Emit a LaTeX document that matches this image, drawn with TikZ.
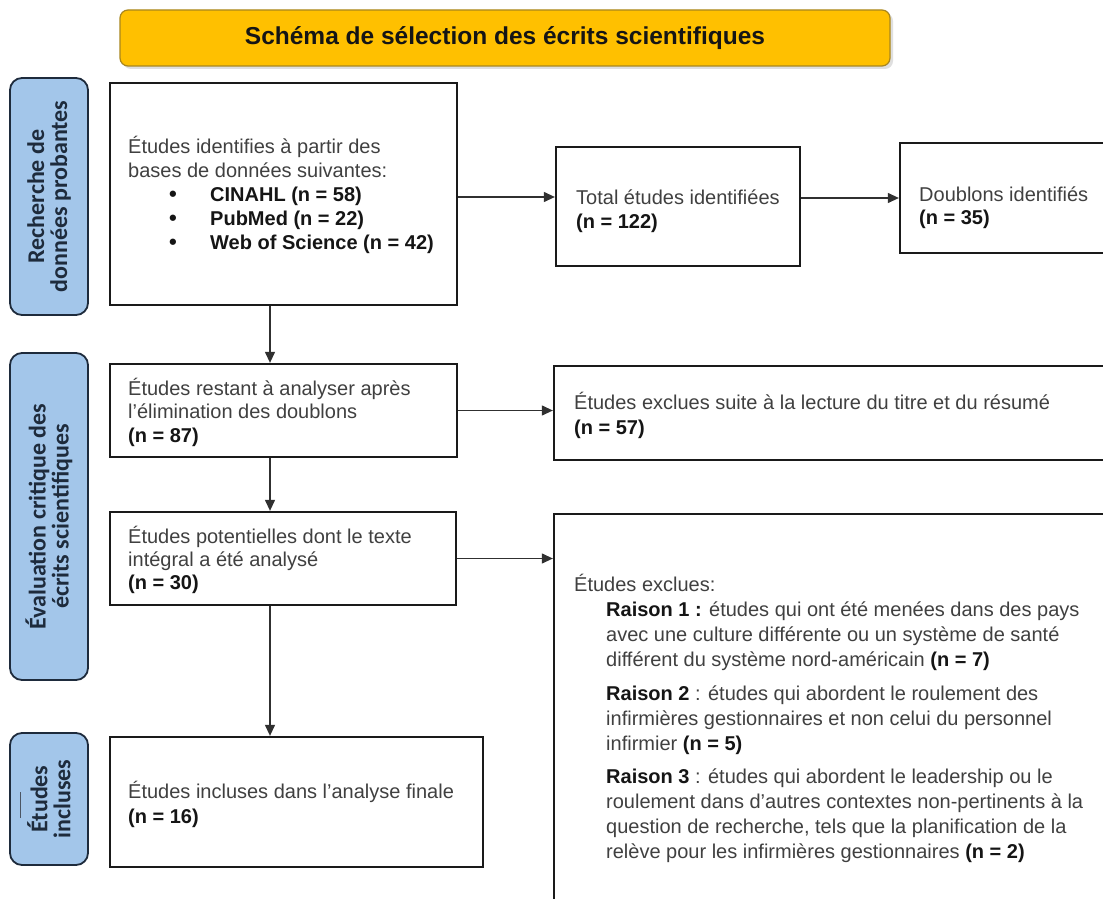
\documentclass[tikz,border=0pt]{standalone}
\usepackage{fontspec}
\setmainfont{Liberation Sans}
\newfontfamily\lblfont{Carlito}
\usetikzlibrary{arrows.meta}
\definecolor{titlefill}{HTML}{FFC000}
\definecolor{titledraw}{HTML}{A8861E}
\definecolor{lblfill}{HTML}{A3C6EA}
\definecolor{lbldraw}{HTML}{1E2B3C}
\definecolor{boxline}{HTML}{1A1A1A}
\definecolor{arrline}{HTML}{303030}
\definecolor{txt}{HTML}{404040}
\definecolor{boldtxt}{HTML}{151515}
\newcommand\bt[1]{\textcolor{boldtxt}{\bfseries #1}}
\newcommand\fl{\rule{0pt}{19pt}}
\newcommand\bul{\hspace*{41pt}\makebox[41pt][l]{\textcolor{boldtxt}{\bfseries\fontsize{22}{24}\selectfont\textbullet}}}
\tikzset{
  box/.style={draw=boxline, line width=2.3pt, fill=white, inner sep=0pt},
  lbl/.style={draw=lbldraw, fill=lblfill, line width=1.8pt, rounded corners=12pt, inner sep=0pt,
    rotate=90, align=center, text=lbldraw, font=\lblfont\bfseries\fontsize{24}{23}\selectfont},
  arr/.style={draw=arrline, line width=1.2pt, -{Triangle[length=11pt,width=10pt]}},
  txtn/.style={anchor=north west, inner sep=0pt, align=left, text=txt},
}
\begin{document}
\begin{tikzpicture}[x=1pt, y=-1pt]
\clip (0,0) rectangle (1103,899);
\fill[white] (0,0) rectangle (1103,899);
% title
\fill[gray!25, rounded corners=8pt] (123,13) rectangle (893,69);
\node[draw=titledraw, fill=titlefill, line width=1.2pt, rounded corners=8pt,
  minimum width=770pt, minimum height=56pt, text=boldtxt,
  font=\bfseries\fontsize{24.5}{27}\selectfont] (title) at (505,38) {Schéma de sélection des écrits scientifiques};
% side labels
\node[lbl, minimum width=237pt, minimum height=78pt] (l1) at (49,196.5) {Recherche de\\données probantes};
\node[lbl, minimum width=327pt, minimum height=78pt] (l2) at (49,516.5) {Évaluation critique des\\écrits scientifiques};
\node[lbl, minimum width=132pt, minimum height=78pt] (l3) at (49,799) {Études\\incluses};
\draw[lbldraw!80, line width=1pt] (20,792) -- (20,818);
% boxes
\node[box, minimum width=347pt, minimum height=222pt] (b1) at (283.5,194) {};
\node[box, minimum width=347pt, minimum height=93pt] (b2) at (283.5,410.5) {};
\node[box, minimum width=346pt, minimum height=93pt] (b3) at (283,558.5) {};
\node[box, minimum width=373pt, minimum height=130pt] (b4) at (296.5,802) {};
\node[box, minimum width=244pt, minimum height=119pt] (tot) at (678,206.5) {};
\node[box, minimum width=215pt, minimum height=110pt] (dbl) at (1007.5,198) {};
\node[box, minimum width=561pt, minimum height=94pt] (exc) at (834.5,413) {};
\node[box, minimum width=561pt, minimum height=396pt] (big) at (834.5,712) {};
% texts
\node[txtn, font=\fontsize{20}{24}\selectfont] (t1) at (128,134) {\fl Études identifies à partir des\\
bases de données suivantes:\\
\bul\bt{CINAHL (n = 58)}\\
\bul\bt{PubMed (n = 22)}\\
\bul\bt{Web of Science (n = 42)}};
\node[txtn, font=\fontsize{20}{23.5}\selectfont] (t2) at (128,376) {\fl Études restant à analyser après\\
l’élimination des doublons\\ \bt{(n = 87)}};
\node[txtn, font=\fontsize{20}{23}\selectfont] (t3) at (128,524) {\fl Études potentielles dont le texte\\
intégral a été analysé\\ \bt{(n = 30)}};
\node[txtn, font=\fontsize{20}{25}\selectfont] (t4) at (128,779) {\fl Études incluses dans l’analyse finale\\ \bt{(n = 16)}};
\node[txtn, font=\fontsize{20}{24}\selectfont] (ttot) at (576,185) {\fl Total études identifiées\\ \bt{(n = 122)}};
\node[txtn, font=\fontsize{20}{23}\selectfont] (tdbl) at (919,182) {\fl Doublons identifiés\\ \bt{(n = 35)}};
\node[txtn, font=\fontsize{20}{25}\selectfont] (texc) at (574,390) {\fl Études exclues suite à la lecture du titre et du résumé\\ \bt{(n = 57)}};
\node[txtn, font=\fontsize{20}{25}\selectfont] (tbigh) at (574,572) {\fl Études exclues:};
\node[txtn, font=\fontsize{20}{25}\selectfont] (tbig) at (606,597) {\fl \bt{Raison 1 :} études qui ont été menées dans des pays\\
avec une culture différente ou un système de santé\\
différent du système nord-américain \bt{(n = 7)}\\[9pt]
\bt{Raison 2} : études qui abordent le roulement des\\
infirmières gestionnaires et non celui du personnel\\
infirmier \bt{(n = 5)}\\[8pt]
\bt{Raison 3} : études qui abordent le leadership ou le\\
roulement dans d’autres contextes non-pertinents à la\\
question de recherche, tels que la planification de la\\
relève pour les infirmières gestionnaires \bt{(n = 2)}};
% connectors
\coordinate (ax) at (270,0);
\draw[arr] (b1.south -| ax) -- (b2.north -| ax);
\draw[arr] (b2.south -| ax) -- (b3.north -| ax);
\draw[arr] (b3.south -| ax) -- (b4.north -| ax);
\draw[arr] ([yshift=-3pt]b1.east) -- ([yshift=-3pt]b1.east -| tot.west);
\draw[arr] (dbl.west -| tot.east) -- (dbl.west);
\draw[arr] (b2.east) -- (b2.east -| exc.west);
\draw[arr] (b3.east) -- (b3.east -| big.west);
\end{tikzpicture}
\end{document}
